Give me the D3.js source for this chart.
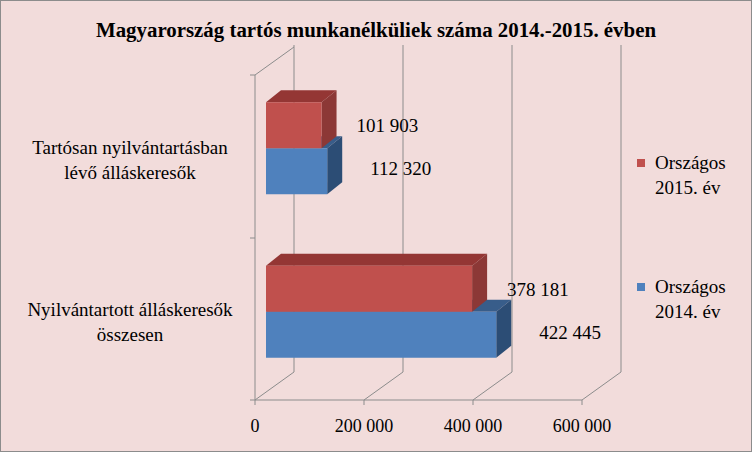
<!DOCTYPE html><html><head><meta charset="utf-8"><script src="https://cdn.jsdelivr.net/npm/d3@7"></script>
<style>body{margin:0;background:#f2dcdb}svg{font-family:"Liberation Serif","Times New Roman",serif}</style></head><body>
<svg id="c" width="752" height="452"></svg>
<script>
const categories=[["Tartósan nyilvántartásban","lévő álláskeresők"],["Nyilvántartott álláskeresők","összesen"]];
const series2015=[101903,378181];
const series2014=[112320,422445];
const seriesNames=[["Országos","2015. év"],["Országos","2014. év"]];
const ticks=[0,200000,400000,600000];
const fmt=v=>d3.format(",")(v).replace(/,/g," ");
const svg=d3.select("#c");
svg.append("rect").attr("x",0.5).attr("y",0.5).attr("width",751).attr("height",451).attr("fill","#f2dcdb").attr("stroke","#8c8c8c");
svg.append("text").attr("x",376).attr("y",37).attr("text-anchor","middle").attr("font-weight","bold").attr("font-size",20).attr("textLength",560).attr("lengthAdjust","spacingAndGlyphs").text("Magyarország tartós munkanélküliek  száma 2014.-2015. évben");
const x=d3.scaleLinear().domain([0,600000]).range([255,582]);
const y=d3.scaleBand().domain([0,1]).range([75,400]);
const DX=39,DY=-28,grid="#8c8c8c";
const g=svg.append("g").attr("stroke",grid).attr("fill","none");
ticks.forEach(t=>{const X=x(t);g.append("path").attr("d",`M${X},400L${X+DX},${400+DY}L${X+DX},45`);
 g.append("line").attr("x1",X).attr("x2",X).attr("y1",400).attr("y2",405);});
g.append("path").attr("d",`M${x(0)},400L${x(600000)},400`);
g.append("path").attr("d",`M255,400L255,75L${255+DX},${75+DY}`);
[75,238,400].forEach(v=>g.append("line").attr("x1",250).attr("x2",255).attr("y1",v).attr("y2",v));
ticks.forEach(t=>svg.append("text").attr("x",x(t)).attr("y",432).attr("text-anchor","middle").attr("font-size",18).text(fmt(t)));
const bx=11,bdx=15,bdy=-12,bh=46;
function bar(v,top,c,side,topc){const x0=x(0)+bx,x1=x(v)+bx;
 svg.append("path").attr("d",`M${x0},${top}L${x0+bdx},${top+bdy}L${x1+bdx},${top+bdy}L${x1},${top}Z`).attr("fill",topc);
 svg.append("path").attr("d",`M${x1},${top}L${x1+bdx},${top+bdy}L${x1+bdx},${top+bh+bdy}L${x1},${top+bh}Z`).attr("fill",side);
 svg.append("rect").attr("x",x0).attr("y",top).attr("width",x1-x0).attr("height",bh).attr("fill",c);}
categories.forEach((c,i)=>{const top=y(i)+y.bandwidth()/2-bh+ (i==0?-8:-7);
 bar(series2014[i],top+bh,"#4f81bd","#2c4d75","#385d8a");
 bar(series2015[i],top,"#c0504d","#8c3836","#943634");
 svg.append("text").attr("x",x(series2015[i])+46).attr("y",top+30).attr("font-size",19).text(fmt(series2015[i]));
 svg.append("text").attr("x",x(series2014[i])+54).attr("y",top+bh+27).attr("font-size",19).text(fmt(series2014[i]));
 c.forEach((l,j)=>svg.append("text").attr("x",130).attr("y",top+(i==0?52:50)+j*25).attr("text-anchor","middle").attr("font-size",19).text(l));
});
[["#c0504d",163],["#4f81bd",287]].forEach(([col,yy],i)=>{
 svg.append("rect").attr("x",637).attr("y",yy-4).attr("width",8).attr("height",8).attr("fill",col);
 seriesNames[i].forEach((l,j)=>svg.append("text").attr("x",655).attr("y",yy+6+j*25).attr("font-size",19).text(l));});
</script></body></html>
